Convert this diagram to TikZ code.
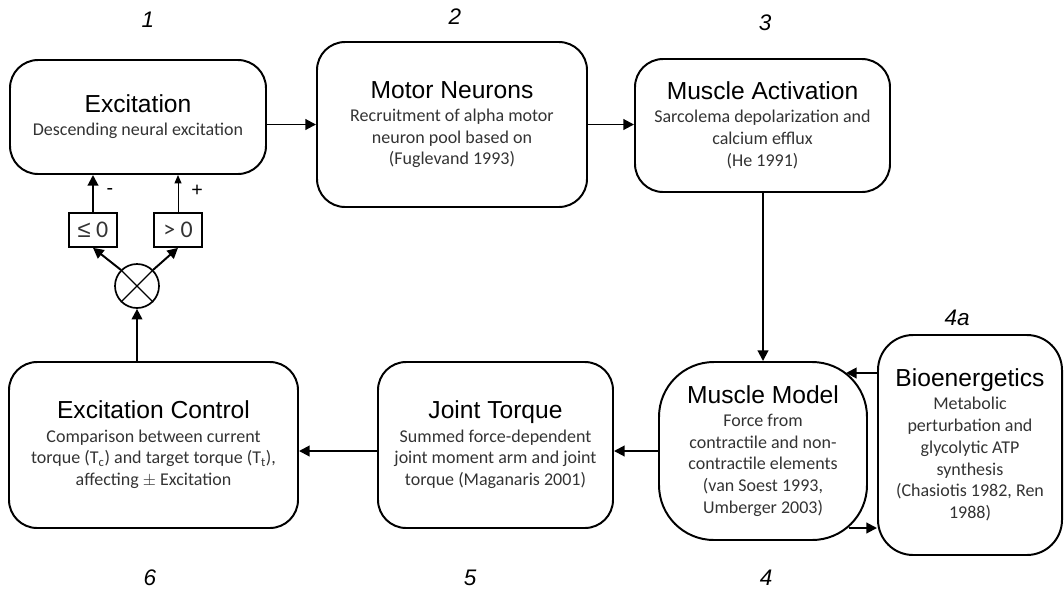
\documentclass[tikz,border=0pt]{standalone}
\usepackage{fontspec}
\setmainfont{Liberation Sans}
\newfontfamily\bodyfont{Carlito}
\usetikzlibrary{arrows.meta}

\newcommand{\boxtitle}[1]{{\rmfamily\color{black}\fontsize{17.5}{20}\selectfont #1}\\[1pt]}

\begin{document}
\begin{tikzpicture}[x=0.025cm,y=-0.025cm,
  block/.style={draw,line width=1.4pt,rounded corners=20pt,align=center,
    inner sep=0pt,text=black!80,font=\bodyfont\fontsize{12.8}{15.5}\selectfont},
  signbox/.style={draw,line width=1.2pt,minimum width=48*0.025cm,minimum height=34*0.025cm,
    inner sep=0pt,text=black!80,font=\bodyfont\fontsize{17}{19}\selectfont},
  arr/.style={line width=1.4pt,-{Triangle[length=7.5pt,width=7.5pt]}},
  thinarr/.style={line width=0.7pt,-{Triangle[length=6pt,width=5pt]}},
  num/.style={font=\fontsize{16}{18}\selectfont\itshape}]
  \useasboundingbox (0,0) rectangle (1064,594);

  % upper row
  \node[block,minimum width=256*0.025cm,minimum height=114*0.025cm] (exc) at (138,117)
    {\boxtitle{Excitation}Descending neural excitation};
  \node[block,minimum width=270*0.025cm,minimum height=165*0.025cm] (mot) at (452,124.5)
    {\boxtitle{Motor Neurons}Recruitment of alpha motor\\neuron pool based on\\(Fuglevand 1993)};
  \node[block,minimum width=255*0.025cm,minimum height=133*0.025cm] (act) at (762.5,125.5)
    {\boxtitle{Muscle Activation}Sarcolema depolarization and\\calcium efflux\\(He 1991)};

  % lower row
  \node[block,rounded corners=39pt,minimum width=208*0.025cm,minimum height=178*0.025cm] (mm) at (763,451)
    {\boxtitle{Muscle Model}Force from\\contractile and non-\\contractile elements\\(van Soest 1993,\\Umberger 2003)};
  \node[block,rounded corners=25pt,minimum width=184*0.025cm,minimum height=220*0.025cm] (bio) at (970,445)
    {\boxtitle{Bioenergetics}Metabolic\\perturbation and\\glycolytic ATP\\synthesis\\(Chasiotis 1982, Ren\\1988)};
  \node[block,minimum width=235*0.025cm,minimum height=166*0.025cm] (jt) at (495.5,445)
    {\boxtitle{Joint Torque}Summed force-dependent\\joint moment arm and joint\\torque (Maganaris 2001)};
  \node[block,minimum width=289*0.025cm,minimum height=166*0.025cm] (ec) at (153.5,445)
    {\boxtitle{Excitation Control}Comparison between current\\torque (T\textsubscript{c}) and target torque (T\textsubscript{t}),\\affecting $\pm$ Excitation};

  % feedback part
  \node[draw,circle,line width=1.2pt,minimum size=44*0.025cm,inner sep=0pt] (circ) at (137,286) {};
  \draw[line width=0.8pt] (circ.45) -- (circ.225) (circ.135) -- (circ.315);
  \node[signbox] (leq) at (93,230) {{\rmfamily ≤} 0};
  \node[signbox] (gt) at (178,230) {> 0};
  \node[font=\fontsize{14}{16}\selectfont] (minus) at (110,191) {-};
  \node[font=\fontsize{14}{16}\selectfont] (plus) at (197,191) {+};

  \coordinate (mmin) at (846,373);
  \coordinate (mmout) at (849,528);

  \draw[arr] (exc.east |- mot.west) -- (mot.west);
  \draw[arr] (mot.east) -- (mot.east -| act.west);
  \draw[arr] (act.south -| mm.north) -- (mm.north);
  \draw[arr] (bio.west |- mmin) -- (mmin);
  \draw[arr] (mmout) -- (bio.west |- mmout);
  \draw[arr] (mm.west) -- (mm.west -| jt.east);
  \draw[arr] (mm.west -| jt.west) -- (mm.west -| ec.east);
  \draw[arr] (circ |- ec.north) -- (circ.south);
  \draw[arr] (circ.135) -- (leq.south);
  \draw[arr] (circ.45) -- (gt.south);
  \draw[arr] (leq.north) -- (leq.north |- exc.south);
  \draw[thinarr] (gt.north) -- (gt.north |- exc.south);

  % step numbers
  \node[num] (n1) at (148,20) {1};
  \node[num] (n2) at (455,17) {2};
  \node[num] (n3) at (765,23) {3};
  \node[num] (n4a) at (957,318) {4a};
  \node[num] (n4) at (766,578) {4};
  \node[num] (n5) at (470,578) {5};
  \node[num] (n6) at (150,578) {6};
\end{tikzpicture}
\end{document}
